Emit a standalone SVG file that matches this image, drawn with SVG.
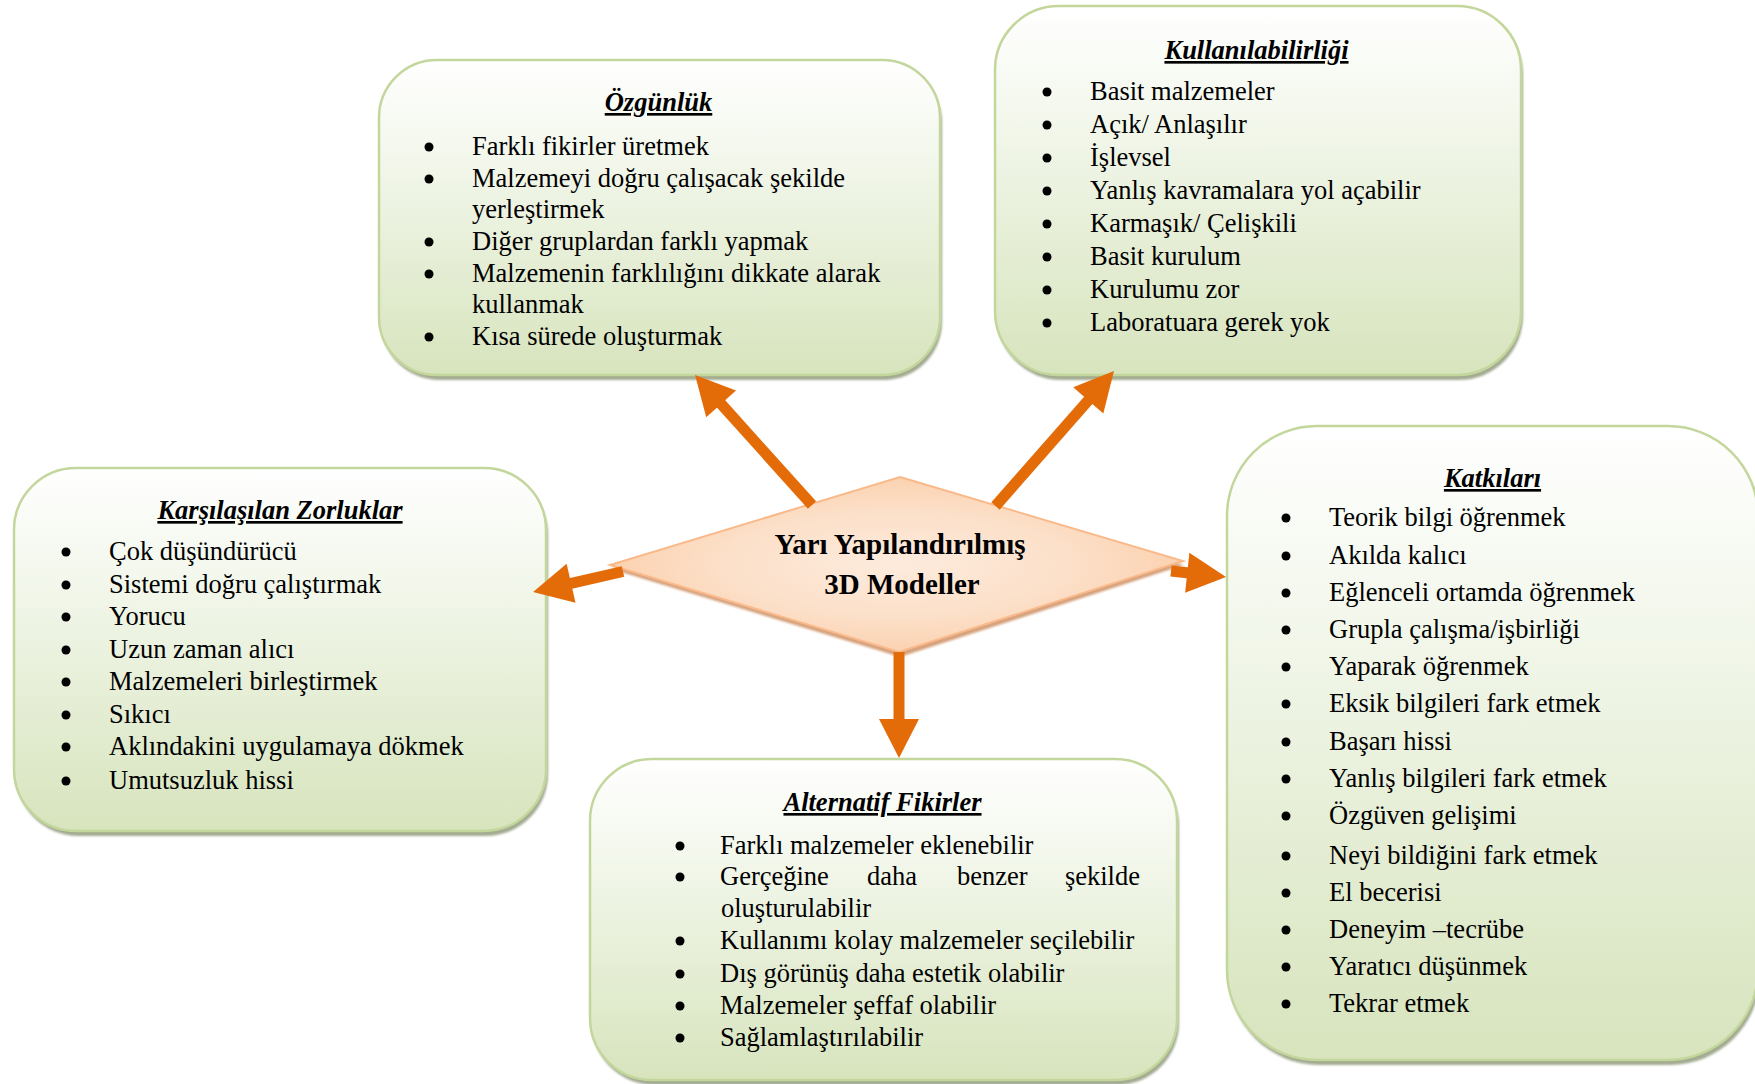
<svg xmlns="http://www.w3.org/2000/svg" width="1755" height="1084" viewBox="0 0 1755 1084">
  <style>
    .box { fill: url(#boxFill); stroke: #c3d69b; stroke-width: 2.5; }
    .shade { fill: #a3ab91; filter: url(#soft); }
    .t { font-family: "Liberation Serif", "Times New Roman", serif; font-size: 26.5px; fill: #000; }
    .h { font-weight: bold; font-style: italic; text-decoration: underline; text-anchor: middle; }
    .c { font-family: "Liberation Serif", "Times New Roman", serif; font-size: 29px; font-weight: bold; text-anchor: middle; fill: #000; }
    .dot { fill: #000; }
    .arrow { stroke: #e36c09; stroke-width: 11; stroke-linecap: butt; fill: none; marker-end: url(#head); }
  </style>
  <defs>
    <linearGradient id="boxFill" x1="0" y1="0" x2="0" y2="1">
      <stop offset="0" stop-color="#ffffff"/>
      <stop offset="0.35" stop-color="#f1f6e9"/>
      <stop offset="1" stop-color="#d7e4bd"/>
    </linearGradient>
    <radialGradient id="diamondFill" cx="0.5" cy="0.5" r="0.5">
      <stop offset="0" stop-color="#fdebdd"/>
      <stop offset="0.6" stop-color="#fce0c9"/>
      <stop offset="1" stop-color="#fbd2b0"/>
    </radialGradient>
    <filter id="soft" x="-5%" y="-5%" width="110%" height="110%">
      <feGaussianBlur stdDeviation="1.2"/>
    </filter>
    <marker id="head" markerUnits="userSpaceOnUse" markerWidth="39" markerHeight="40" refX="9" refY="20" orient="auto" overflow="visible">
      <path d="M0,0 L39,20 L0,40 z" fill="#e36c09"/>
    </marker>
  </defs>

  <!-- Özgünlük -->
  <g id="node-ozgunluk">
    <rect class="shade" x="381" y="65" width="561" height="315" rx="58"/>
    <rect class="box" x="379" y="60" width="561" height="315" rx="58"/>
    <text class="t h" x="658.5" y="111">Özgünlük</text>
    <circle class="dot" cx="429" cy="147" r="4.5"/>
    <circle class="dot" cx="429" cy="179" r="4.5"/>
    <circle class="dot" cx="429" cy="242" r="4.5"/>
    <circle class="dot" cx="429" cy="274" r="4.5"/>
    <circle class="dot" cx="429" cy="337" r="4.5"/>
    <text class="t" x="472" y="155">Farklı fikirler üretmek</text>
    <text class="t" x="472" y="187">Malzemeyi doğru çalışacak şekilde</text>
    <text class="t" x="472" y="218">yerleştirmek</text>
    <text class="t" x="472" y="250">Diğer gruplardan farklı yapmak</text>
    <text class="t" x="472" y="282">Malzemenin farklılığını dikkate alarak</text>
    <text class="t" x="472" y="313">kullanmak</text>
    <text class="t" x="472" y="345">Kısa sürede oluşturmak</text>
  </g>

  <!-- Kullanılabilirliği -->
  <g id="node-kullanilabilirligi">
    <rect class="shade" x="997" y="11" width="526" height="369" rx="64"/>
    <rect class="box" x="995" y="6" width="526" height="369" rx="64"/>
    <text class="t h" x="1256.5" y="59">Kullanılabilirliği</text>
    <circle class="dot" cx="1047" cy="92" r="4.5"/>
    <circle class="dot" cx="1047" cy="125" r="4.5"/>
    <circle class="dot" cx="1047" cy="158" r="4.5"/>
    <circle class="dot" cx="1047" cy="191" r="4.5"/>
    <circle class="dot" cx="1047" cy="224" r="4.5"/>
    <circle class="dot" cx="1047" cy="257" r="4.5"/>
    <circle class="dot" cx="1047" cy="290" r="4.5"/>
    <circle class="dot" cx="1047" cy="323" r="4.5"/>
    <text class="t" x="1090" y="100">Basit malzemeler</text>
    <text class="t" x="1090" y="133">Açık/ Anlaşılır</text>
    <text class="t" x="1090" y="166">İşlevsel</text>
    <text class="t" x="1090" y="199">Yanlış kavramalara yol açabilir</text>
    <text class="t" x="1090" y="232">Karmaşık/ Çelişkili</text>
    <text class="t" x="1090" y="265">Basit kurulum</text>
    <text class="t" x="1090" y="298">Kurulumu zor</text>
    <text class="t" x="1090" y="331">Laboratuara gerek yok</text>
  </g>

  <!-- Karşılaşılan Zorluklar -->
  <g id="node-zorluklar">
    <rect class="shade" x="16" y="473" width="532" height="363" rx="62"/>
    <rect class="box" x="14" y="468" width="532" height="363" rx="62"/>
    <text class="t h" x="280" y="519">Karşılaşılan Zorluklar</text>
    <circle class="dot" cx="66" cy="552" r="4.5"/>
    <circle class="dot" cx="66" cy="585" r="4.5"/>
    <circle class="dot" cx="66" cy="617" r="4.5"/>
    <circle class="dot" cx="66" cy="650" r="4.5"/>
    <circle class="dot" cx="66" cy="682" r="4.5"/>
    <circle class="dot" cx="66" cy="715" r="4.5"/>
    <circle class="dot" cx="66" cy="747" r="4.5"/>
    <circle class="dot" cx="66" cy="781" r="4.5"/>
    <text class="t" x="109" y="560">Çok düşündürücü</text>
    <text class="t" x="109" y="593">Sistemi doğru çalıştırmak</text>
    <text class="t" x="109" y="625">Yorucu</text>
    <text class="t" x="109" y="658">Uzun zaman alıcı</text>
    <text class="t" x="109" y="690">Malzemeleri birleştirmek</text>
    <text class="t" x="109" y="723">Sıkıcı</text>
    <text class="t" x="109" y="755">Aklındakini uygulamaya dökmek</text>
    <text class="t" x="109" y="789">Umutsuzluk hissi</text>
  </g>

  <!-- Alternatif Fikirler -->
  <g id="node-alternatif">
    <rect class="shade" x="592" y="764" width="587" height="321" rx="62"/>
    <rect class="box" x="590" y="759" width="587" height="321" rx="62"/>
    <text class="t h" x="882.5" y="811">Alternatif Fikirler</text>
    <circle class="dot" cx="680" cy="846" r="4.5"/>
    <circle class="dot" cx="680" cy="877" r="4.5"/>
    <circle class="dot" cx="680" cy="941" r="4.5"/>
    <circle class="dot" cx="680" cy="974" r="4.5"/>
    <circle class="dot" cx="680" cy="1006" r="4.5"/>
    <circle class="dot" cx="680" cy="1038" r="4.5"/>
    <text class="t" x="720" y="854">Farklı malzemeler eklenebilir</text>
    <text class="t" y="885"><tspan x="720">Gerçeğine</tspan><tspan x="867">daha</tspan><tspan x="957">benzer</tspan><tspan x="1140" text-anchor="end">şekilde</tspan></text>
    <text class="t" x="721" y="917">oluşturulabilir</text>
    <text class="t" x="720" y="949">Kullanımı kolay malzemeler seçilebilir</text>
    <text class="t" x="720" y="982">Dış görünüş daha estetik olabilir</text>
    <text class="t" x="720" y="1014">Malzemeler şeffaf olabilir</text>
    <text class="t" x="720" y="1046">Sağlamlaştırılabilir</text>
  </g>

  <!-- Katkıları -->
  <g id="node-katkilari">
    <rect class="shade" x="1229" y="431" width="531" height="634" rx="90"/>
    <rect class="box" x="1227" y="426" width="531" height="634" rx="90"/>
    <text class="t h" x="1492.5" y="487">Katkıları</text>
    <circle class="dot" cx="1286" cy="518" r="4.5"/>
    <circle class="dot" cx="1286" cy="556" r="4.5"/>
    <circle class="dot" cx="1286" cy="593" r="4.5"/>
    <circle class="dot" cx="1286" cy="630" r="4.5"/>
    <circle class="dot" cx="1286" cy="667" r="4.5"/>
    <circle class="dot" cx="1286" cy="704" r="4.5"/>
    <circle class="dot" cx="1286" cy="742" r="4.5"/>
    <circle class="dot" cx="1286" cy="779" r="4.5"/>
    <circle class="dot" cx="1286" cy="816" r="4.5"/>
    <circle class="dot" cx="1286" cy="856" r="4.5"/>
    <circle class="dot" cx="1286" cy="893" r="4.5"/>
    <circle class="dot" cx="1286" cy="930" r="4.5"/>
    <circle class="dot" cx="1286" cy="967" r="4.5"/>
    <circle class="dot" cx="1286" cy="1004" r="4.5"/>
    <text class="t" x="1329" y="526">Teorik bilgi öğrenmek</text>
    <text class="t" x="1329" y="564">Akılda kalıcı</text>
    <text class="t" x="1329" y="601">Eğlenceli ortamda öğrenmek</text>
    <text class="t" x="1329" y="638">Grupla çalışma/işbirliği</text>
    <text class="t" x="1329" y="675">Yaparak öğrenmek</text>
    <text class="t" x="1329" y="712">Eksik bilgileri fark etmek</text>
    <text class="t" x="1329" y="750">Başarı hissi</text>
    <text class="t" x="1329" y="787">Yanlış bilgileri fark etmek</text>
    <text class="t" x="1329" y="824">Özgüven gelişimi</text>
    <text class="t" x="1329" y="864">Neyi bildiğini fark etmek</text>
    <text class="t" x="1329" y="901">El becerisi</text>
    <text class="t" x="1329" y="938">Deneyim –tecrübe</text>
    <text class="t" x="1329" y="975">Yaratıcı düşünmek</text>
    <text class="t" x="1329" y="1012">Tekrar etmek</text>
  </g>

  <!-- Central diamond -->
  <g id="node-center">
    <polygon points="901,481 1184,565 900,657 611,569" fill="#d6a27d" filter="url(#soft)"/>
    <polygon points="900,477 1183,561 899,652 610,565" fill="url(#diamondFill)" stroke="#f9b98a" stroke-width="2"/>
    <text class="c" x="900" y="554">Yarı Yapılandırılmış</text>
    <text class="c" x="902" y="594">3D Modeller</text>
  </g>

  <!-- Connectors: shafts end 30px short of the tip; the head marker covers the rest -->
  <g id="connectors">
    <line class="arrow" x1="812" y1="505" x2="715.1" y2="397.3"/>
    <line class="arrow" x1="995.5" y1="506" x2="1094.2" y2="393.6"/>
    <line class="arrow" x1="623" y1="571.5" x2="562.3" y2="585.3"/>
    <line class="arrow" x1="1171" y1="571" x2="1196.2" y2="573.7"/>
    <line class="arrow" x1="899" y1="652" x2="899" y2="728"/>
  </g>
</svg>
